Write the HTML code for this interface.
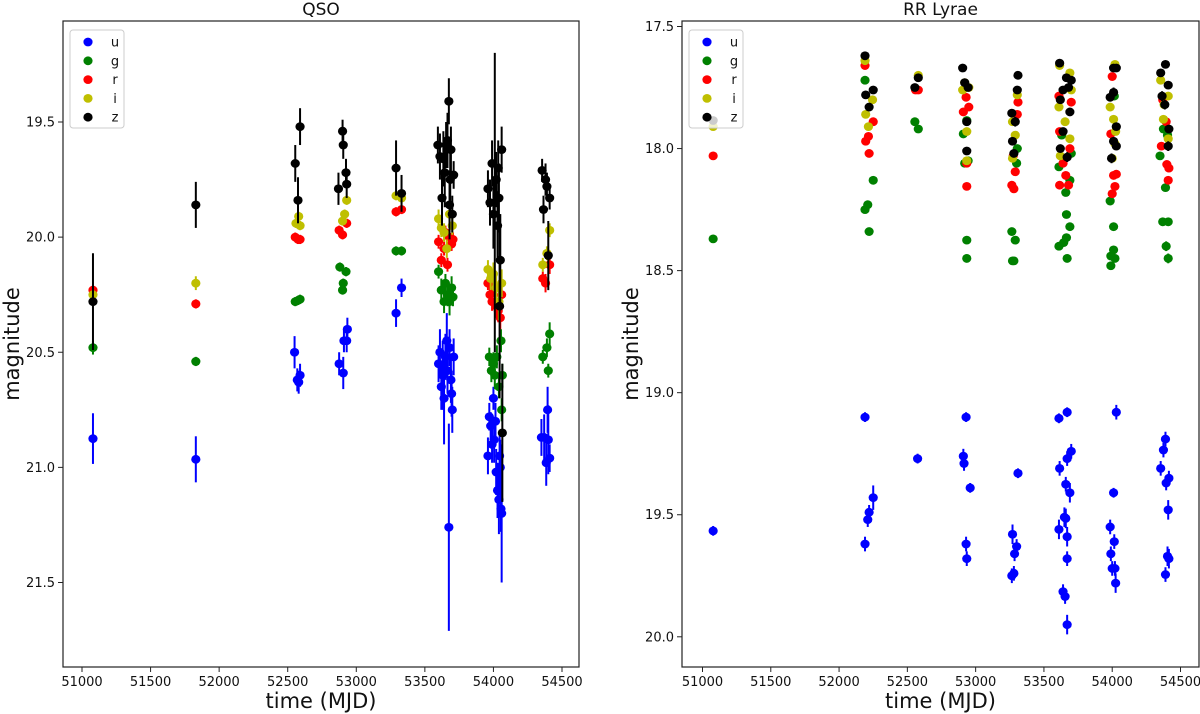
<!DOCTYPE html>
<html><head><meta charset="utf-8"><style>
html,body{margin:0;padding:0;background:#fff;}
svg{display:block;font-family:"DejaVu Sans","Liberation Sans",sans-serif;}
</style></head><body>
<svg id="chart" width="1200" height="714" viewBox="0 0 1200 714" xmlns="http://www.w3.org/2000/svg"></svg>
<script>
// ---- data: [MJD, magnitude, error] ----
const bands = ['u','g','r','i','z'];
const bandColors = ['#0000ff','#008000','#ff0000','#bfbf00','#000000'];
const xTicks = [51000,51500,52000,52500,53000,53500,54000,54500];
const qsoYTicks = [19.5,20.0,20.5,21.0,21.5];
const rrYTicks = [17.5,18.0,18.5,19.0,19.5,20.0];

const qsoU = [[51080,20.875,0.11],[51830,20.965,0.1],[52550,20.5,0.07],[52570,20.62,0.05],[52590,20.6,0.05],[52580,20.63,0.05],
[52875,20.55,0.05],[52905,20.59,0.07],[52910,20.45,0.05],[52930,20.45,0.05],[52935,20.4,0.05],[53290,20.33,0.06],[53330,20.22,0.04],
[53600,20.55,0.08],[53610,20.5,0.1],[53620,20.65,0.1],[53630,20.6,0.15],[53640,20.7,0.2],[53650,20.52,0.1],[53660,20.45,0.12],[53665,20.58,0.1],[53675,21.26,0.45],[53680,20.48,0.08],[53690,20.62,0.1],[53700,20.75,0.1],[53710,20.52,0.08],[53695,20.68,0.1],
[53960,20.95,0.08],[53970,20.78,0.06],[53980,20.82,0.06],[53990,20.9,0.08],[54000,20.7,0.05],[54005,20.88,0.1],[54015,20.8,0.08],[54020,21.02,0.1],[54030,21.1,0.12],[54040,21.14,0.15],[54050,21.0,0.12],[54060,21.2,0.3],[54045,20.95,0.1],[54055,21.18,0.1],
[54350,20.87,0.08],[54370,20.87,0.1],[54385,20.98,0.1],[54395,20.75,0.1],[54400,20.88,0.15],[54410,20.96,0.06]];
const qsoG = [[51080,20.48,0.03],[51830,20.54,0.02],[52555,20.28,0.02],[52575,20.275,0.02],[52590,20.27,0.02],
[52880,20.13,0.02],[52905,20.2,0.02],[52900,20.23,0.02],[52925,20.15,0.02],[53290,20.06,0.02],[53330,20.06,0.02],
[53600,20.15,0.03],[53620,20.23,0.05],[53640,20.28,0.05],[53650,20.2,0.04],[53665,20.25,0.05],[53680,20.28,0.06],[53695,20.22,0.05],[53705,20.26,0.04],
[53970,20.52,0.04],[53985,20.58,0.05],[54000,20.55,0.05],[54010,20.6,0.06],[54025,20.52,0.05],[54040,20.65,0.05],[54055,20.45,0.05],[54065,20.6,0.05],[54060,20.75,0.05],
[54360,20.52,0.03],[54390,20.48,0.04],[54400,20.58,0.03],[54410,20.42,0.05]];
const qsoR = [[51080,20.23,0.02],[51830,20.29,0.02],[52555,20.0,0.02],[52575,20.01,0.02],[52590,20.01,0.02],
[52875,19.97,0.02],[52900,19.99,0.02],[52930,19.94,0.02],[53290,19.89,0.02],[53330,19.88,0.02],
[53600,20.02,0.03],[53620,20.1,0.03],[53640,20.05,0.03],[53650,19.98,0.03],[53665,20.12,0.03],[53680,20.0,0.03],[53695,20.03,0.03],[53705,20.01,0.03],
[53960,20.2,0.03],[53975,20.25,0.04],[53990,20.28,0.04],[54005,20.22,0.04],[54020,20.3,0.05],[54035,20.32,0.05],[54050,20.35,0.05],[54060,20.25,0.04],
[54360,20.18,0.03],[54380,20.2,0.04],[54410,20.12,0.04]];
const qsoI = [[51080,20.25,0.02],[51830,20.2,0.03],[52560,19.94,0.02],[52580,19.91,0.02],[52590,19.95,0.02],
[52900,19.93,0.02],[52915,19.9,0.02],[52930,19.84,0.02],[53290,19.82,0.02],[53330,19.83,0.02],
[53600,19.92,0.04],[53620,19.96,0.04],[53640,19.98,0.04],[53660,20.05,0.04],[53680,19.9,0.04],[53700,19.95,0.04],
[53960,20.14,0.04],[53980,20.18,0.05],[54000,20.16,0.05],[54020,20.22,0.06],[54040,20.28,0.08],[54060,20.2,0.06],
[54360,20.12,0.03],[54390,20.07,0.03],[54410,19.97,0.03]];
const qsoZ = [[51080,20.28,0.21],[51830,19.86,0.1],[52555,19.68,0.08],[52575,19.84,0.1],[52590,19.52,0.08],
[52870,19.79,0.07],[52900,19.54,0.05],[52905,19.6,0.06],[52925,19.72,0.06],[52930,19.77,0.06],[53290,19.7,0.12],[53330,19.81,0.08],
[53595,19.6,0.08],[53610,19.65,0.1],[53625,19.83,0.12],[53635,19.66,0.12],[53645,19.72,0.15],[53655,19.6,0.1],[53665,19.58,0.12],[53675,19.41,0.1],[53685,19.75,0.15],[53690,19.62,0.1],[53700,19.9,0.08],[53710,19.73,0.06],[53680,19.86,0.15],
[53960,19.79,0.08],[53975,19.85,0.1],[53990,19.68,0.1],[54000,19.9,0.15],[54010,19.85,0.65],[54020,19.75,0.12],[54030,19.95,0.15],[54040,19.83,0.15],[54050,20.1,0.2],[54060,19.62,0.1],[54065,20.85,0.3],[54035,19.7,0.12],[54045,20.3,0.4],
[54355,19.71,0.05],[54365,19.88,0.06],[54380,19.75,0.07],[54390,19.78,0.06],[54410,19.83,0.05],[54400,20.08,0.15]];

const rrU = [[51078,19.566,0.02],[52190,19.1,0.02],[52190,19.62,0.03],[52210,19.52,0.03],[52220,19.49,0.03],[52250,19.43,0.05],
[52575,19.27,0.02],[52930,19.1,0.02],[52910,19.26,0.03],[52915,19.29,0.03],[52960,19.39,0.02],[52930,19.62,0.03],[52935,19.68,0.03],
[53270,19.58,0.04],[53265,19.75,0.03],[53280,19.74,0.03],[53285,19.66,0.03],[53300,19.63,0.03],[53310,19.33,0.02],
[53610,19.105,0.02],[53670,19.08,0.02],[53615,19.31,0.03],[53610,19.56,0.04],[53650,19.51,0.04],[53660,19.515,0.04],[53670,19.59,0.04],[53660,19.375,0.03],[53690,19.41,0.04],[53670,19.27,0.03],[53700,19.24,0.03],[53670,19.68,0.03],[53640,19.815,0.03],[53655,19.835,0.03],[53670,19.95,0.04],
[54030,19.08,0.03],[54010,19.41,0.02],[53985,19.55,0.03],[54015,19.61,0.03],[53990,19.66,0.03],[54000,19.72,0.03],[54020,19.72,0.03],[54025,19.78,0.04],
[54390,19.19,0.03],[54375,19.235,0.03],[54355,19.31,0.03],[54395,19.37,0.03],[54415,19.35,0.03],[54410,19.48,0.04],[54405,19.67,0.04],[54415,19.68,0.04],[54390,19.745,0.03]];
const rrG = [[51078,18.37,0.01],[52190,17.72,0.01],[52190,18.25,0.01],[52210,18.23,0.01],[52220,18.34,0.01],[52250,18.13,0.01],
[52555,17.89,0.01],[52580,17.92,0.01],
[52910,17.94,0.01],[52920,18.06,0.01],[52945,18.05,0.01],[52935,18.375,0.01],[52935,18.45,0.01],[52935,17.885,0.01],
[53265,18.34,0.01],[53270,18.46,0.01],[53280,18.46,0.01],[53290,18.375,0.01],[53300,18.06,0.01],[53305,18.0,0.01],
[53610,18.4,0.01],[53645,18.385,0.01],[53665,18.365,0.01],[53670,18.45,0.01],[53690,18.32,0.01],[53665,18.27,0.01],[53660,18.18,0.01],[53690,18.13,0.01],[53610,18.075,0.01],[53700,18.02,0.01],[53630,17.945,0.01],
[53990,18.48,0.01],[53990,18.44,0.01],[54010,18.415,0.01],[54020,18.45,0.01],[54010,18.32,0.01],[53985,18.215,0.01],[54015,17.785,0.01],
[54370,18.3,0.01],[54410,18.3,0.01],[54395,18.4,0.02],[54410,18.45,0.02],[54390,18.16,0.01],[54350,18.03,0.01],[54375,17.92,0.01],[54405,17.945,0.01]];
const rrR = [[51078,18.03,0.01],[52190,17.66,0.01],[52195,17.97,0.01],[52215,17.95,0.01],[52220,18.02,0.01],[52250,17.89,0.01],
[52560,17.76,0.01],[52580,17.76,0.01],
[52910,17.85,0.01],[52930,17.79,0.01],[52950,17.83,0.01],[52935,18.155,0.01],[52935,18.06,0.01],
[53265,18.15,0.01],[53280,18.165,0.01],[53290,18.095,0.01],[53275,18.03,0.01],[53305,17.86,0.01],[53310,17.81,0.01],
[53615,18.15,0.01],[53660,18.11,0.01],[53680,18.15,0.01],[53640,18.06,0.01],[53615,17.93,0.01],[53700,17.81,0.01],[53610,17.785,0.01],[53690,18.0,0.01],
[54000,17.705,0.01],[53990,17.94,0.01],[54010,18.11,0.01],[54030,18.105,0.01],[54020,18.155,0.01],[54000,18.185,0.01],
[54395,17.89,0.01],[54360,17.99,0.01],[54400,18.065,0.01],[54415,18.08,0.01],[54410,18.13,0.01],[54370,17.8,0.01]];
const rrI = [[51078,17.91,0.01],[52190,17.64,0.01],[52195,17.86,0.01],[52215,17.91,0.01],[52245,17.8,0.01],
[52580,17.7,0.01],
[52905,17.76,0.01],[52920,17.73,0.01],[52950,17.75,0.01],[52935,17.93,0.01],[52935,18.05,0.01],
[53270,17.89,0.01],[53270,18.04,0.01],[53290,17.945,0.01],[53305,17.78,0.01],
[53615,17.66,0.01],[53690,17.69,0.01],[53610,17.83,0.01],[53655,17.89,0.01],[53690,17.96,0.01],[53620,18.03,0.01],[53700,17.76,0.01],
[53985,17.83,0.01],[54010,17.88,0.01],[54025,17.93,0.01],[54020,17.98,0.01],[54000,18.04,0.01],[54020,17.655,0.01],
[54355,17.72,0.01],[54410,17.785,0.01],[54375,17.88,0.01],[54410,17.96,0.01],[54380,17.82,0.01]];
const rrZ = [[51078,17.885,0.01],[52190,17.62,0.01],[52195,17.78,0.01],[52220,17.83,0.01],[52250,17.76,0.01],
[52555,17.75,0.01],[52580,17.71,0.01],
[52905,17.67,0.01],[52920,17.73,0.01],[52945,17.75,0.01],[52935,17.89,0.01],[52935,18.01,0.01],
[53265,17.855,0.01],[53270,17.97,0.01],[53280,18.02,0.01],[53290,17.89,0.02],[53305,17.76,0.01],[53310,17.7,0.01],
[53615,17.65,0.01],[53665,17.71,0.01],[53680,17.75,0.01],[53700,17.72,0.01],[53620,17.8,0.01],[53690,17.85,0.01],[53640,17.93,0.01],[53620,18.0,0.01],[53670,18.035,0.02],[53640,17.76,0.01],
[53985,17.79,0.01],[54010,17.77,0.02],[54030,17.91,0.01],[54010,17.97,0.01],[54030,17.99,0.01],[53995,18.04,0.02],[54010,17.67,0.01],[54030,17.67,0.01],
[54355,17.69,0.01],[54390,17.655,0.01],[54410,17.74,0.01],[54365,17.785,0.02],[54385,17.82,0.02],[54415,17.92,0.01],[54410,17.99,0.02]];

const NS='http://www.w3.org/2000/svg';
const svg=document.getElementById('chart');
function el(tag,attrs,parent){const e=document.createElementNS(NS,tag);for(const k in attrs)e.setAttribute(k,attrs[k]);(parent||svg).appendChild(e);return e;}

function drawPanel(p){
  const g=el('g',{});
  
  
  const xScale=v=>p.x0px+(v-51000)*(p.x1px-p.x0px)/3500;
  const yScale=v=>p.yApx+(v-p.yA)*(p.yBpx-p.yApx)/(p.yB-p.yA);
  p.series.forEach((s,si)=>{
    const sg=el('g',{},g);
    
    
    s.forEach(d=>{
      const x=xScale(d[0]);
      const eb=el('line',{x1:x,x2:x,y1:yScale(d[1]-d[2]),y2:yScale(d[1]+d[2]),stroke:bandColors[si],'stroke-width':2},sg);
      
      
    });
    s.forEach(d=>{
      const c=el('ellipse',{cx:xScale(d[0]),cy:yScale(d[1]),rx:4.6,ry:4.4,fill:bandColors[si]},sg);
      
      
    });
  });
  const fr=el('rect',{x:p.left,y:p.top,width:p.right-p.left,height:p.bottom-p.top,fill:'none',stroke:'#222','stroke-width':1.2},g);
  
  
  xTicks.forEach(t=>{
    const x=xScale(t);
    el('line',{x1:x,x2:x,y1:p.bottom,y2:p.bottom+5,stroke:'#222','stroke-width':1},g);
    const tx=el('text',{x:x,y:p.bottom+19,'font-size':13,'text-anchor':'middle',fill:'#111'},g);
    tx.textContent=t;
    
    
  });
  p.yTicks.forEach(t=>{
    const y=yScale(t);
    el('line',{x1:p.left-5,x2:p.left,y1:y,y2:y,stroke:'#222','stroke-width':1},g);
    const ty=el('text',{x:p.left-8,y:y+4.5,'font-size':13,'text-anchor':'end',fill:'#111'},g);
    ty.textContent=t.toFixed(1);
    
    
  });
  const xl=el('text',{x:(p.left+p.right)/2,y:708,'font-size':21,'text-anchor':'middle',fill:'#111'},g);
  xl.textContent='time (MJD)';
  
  
  const yl=el('text',{x:0,y:0,'font-size':21,'text-anchor':'middle',fill:'#111',transform:'translate('+(p.left-44)+','+((p.top+p.bottom)/2)+') rotate(-90)'},g);
  yl.textContent='magnitude';
  
  
  const ti=el('text',{x:(p.left+p.right)/2,y:15,'font-size':17,'text-anchor':'middle',fill:'#111'},g);
  ti.textContent=p.title;
  
  
  const lg=el('g',{},g);
  
  
  el('rect',{x:p.left+7,y:p.top+9,width:54,height:98,rx:3,fill:'#fff','fill-opacity':0.8,stroke:'#ccc','stroke-width':1},lg);
  bands.forEach((b,i)=>{
    const eg=el('g',{},lg);
    
    
    const cy=p.top+21+i*18.8;
    el('ellipse',{cx:p.left+25,cy:cy,rx:4.6,ry:4.4,fill:bandColors[i]},eg);
    const lt=el('text',{x:p.left+52,y:cy+4.5,'font-size':13,'text-anchor':'middle',fill:'#111'},eg);
    lt.textContent=b;
  });
}

drawPanel({name:'qso',title:'QSO',left:63,right:579,top:21,bottom:667,x0px:82,x1px:562,yA:19.5,yApx:122,yB:21.5,yBpx:582.5,yTicks:qsoYTicks,series:[qsoU,qsoG,qsoR,qsoI,qsoZ]});
drawPanel({name:'rr-lyrae',title:'RR Lyrae',left:682,right:1199,top:21,bottom:667,x0px:702.5,x1px:1180.5,yA:17.5,yApx:26.5,yB:20.0,yBpx:636.8,yTicks:rrYTicks,series:[rrU,rrG,rrR,rrI,rrZ]});
</script>
</body></html>
